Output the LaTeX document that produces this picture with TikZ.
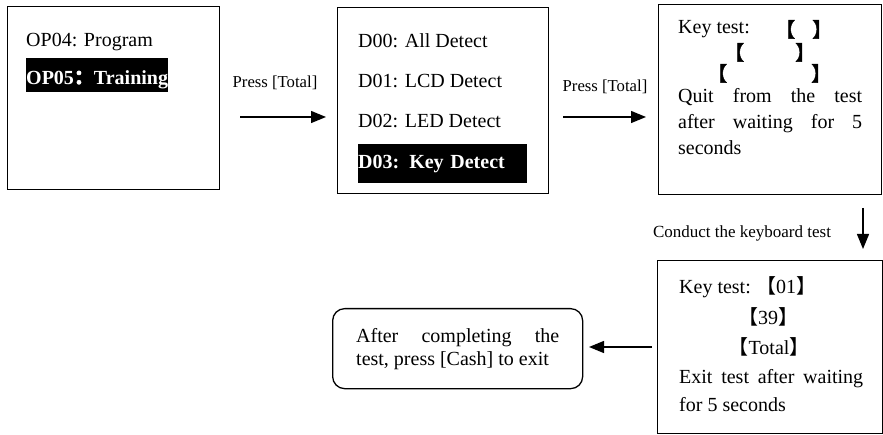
\documentclass[tikz,border=0pt]{standalone}
\usepackage{fontspec}
\setmainfont{Liberation Serif}
\newfontfamily\cjk{Noto Sans CJK SC}
\newfontfamily\cjkb[FakeBold=2.5]{Noto Sans CJK SC}
\usetikzlibrary{arrows.meta}
\begin{document}
\begin{tikzpicture}[x=1pt,y=-1pt,
  frame/.style={draw, line width=1.3pt, inner sep=0pt, anchor=north west},
  txt/.style={inner sep=0pt, anchor=base west, font=\fontsize{20}{24}\selectfont},
  ctxt/.style={inner sep=0pt, anchor=base, font=\fontsize{20}{24}\selectfont},
  lbl/.style={inner sep=0pt, anchor=base, font=\fontsize{16.7}{20}\selectfont},
  hl/.style={fill=black, text=white, inner sep=0pt, anchor=north west, align=left, font=\fontsize{20}{24}\selectfont\bfseries},
  br/.style={inner sep=0pt, anchor=base west, font=\fontsize{20}{24}\selectfont\cjkb},
  arr/.style={line width=1.3pt, -{Triangle[length=15pt,width=12pt]}}
]
\useasboundingbox (0,0) rectangle (883,435);

% box 1
\node[frame, minimum width=212pt, minimum height=183pt] (b1) at (7,6) {};
\node[txt] (op4) at (26,47) {OP04: Program};
\node[hl, text height=26pt, text depth=8pt] (op5) at (26,58) {OP05{\cjkb ：}Training};

% box 2
\node[frame, minimum width=211pt, minimum height=186pt] (b2) at (337,7) {};
\node[txt] (d0) at (358,48) {D00: All Detect};
\node[txt] (d1) at (358,88) {D01: LCD Detect};
\node[txt] (d2) at (358,128) {D02: LED Detect};
\node[hl, text width=169pt, text height=24pt, text depth=15pt] (d3) at (358,144) {D03: Key Detect};

% box 3
\node[frame, minimum width=223pt, minimum height=190pt] (b3) at (658,4) {};
\node[txt] (k1) at (678,34) {Key test:};
\node[br] (o1) at (775,37) {【};
\node[br] (c1) at (812,37) {】};
\node[br] (o2) at (724,60) {【};
\node[br] (c2) at (795,60) {】};
\node[br] (o3) at (707,81) {【};
\node[br] (c3) at (811,81) {】};
\node[txt] (q1) at (678,103) {\makebox[184pt][s]{Quit from the test}};
\node[txt] (q2) at (678,129) {\makebox[184pt][s]{after waiting for 5}};
\node[txt] (q3) at (678,155) {seconds};

% box 4
\node[frame, minimum width=225pt, minimum height=173pt] (b4) at (657,260) {};
\node[txt] (k2) at (679,294) {Key test:};
\node[ctxt] (n01) at (786,294) {{\cjk 【}01{\cjk 】}};
\node[ctxt] (n39) at (768,325) {{\cjk 【}39{\cjk 】}};
\node[ctxt] (ntot) at (769,355) {{\cjk 【}Total{\cjk 】}};
\node[txt] (e1) at (679,383) {\makebox[184pt][s]{Exit test after waiting}};
\node[txt] (e2) at (679,411) {for 5 seconds};

% rounded box
\node[frame, rounded corners=12pt, minimum width=250pt, minimum height=80pt] (rb) at (332,308) {};
\node[txt] (r1) at (356,343) {\makebox[203pt][s]{After completing the}};
\node[txt] (r2) at (356,366) {test, press [Cash] to exit};

% labels
\node[lbl] (p1) at (275,88) {Press [Total]};
\node[lbl] (p2) at (605,92) {Press [Total]};
\node[lbl, font=\fontsize{17}{20}\selectfont] (ck) at (742,238) {Conduct the keyboard test};

% arrows
\coordinate (a1s) at (240,117); \coordinate (a1e) at (326,117);
\coordinate (a2s) at (563,117); \coordinate (a2e) at (646,117);
\coordinate (a3s) at (863,208); \coordinate (a3e) at (863,249);
\coordinate (a4s) at (652,347); \coordinate (a4e) at (589,347);
\draw[arr] (a1s) -- (a1e);
\draw[arr] (a2s) -- (a2e);
\draw[arr] (a3s) -- (a3e);
\draw[arr] (a4s) -- (a4e);
\end{tikzpicture}
\end{document}
